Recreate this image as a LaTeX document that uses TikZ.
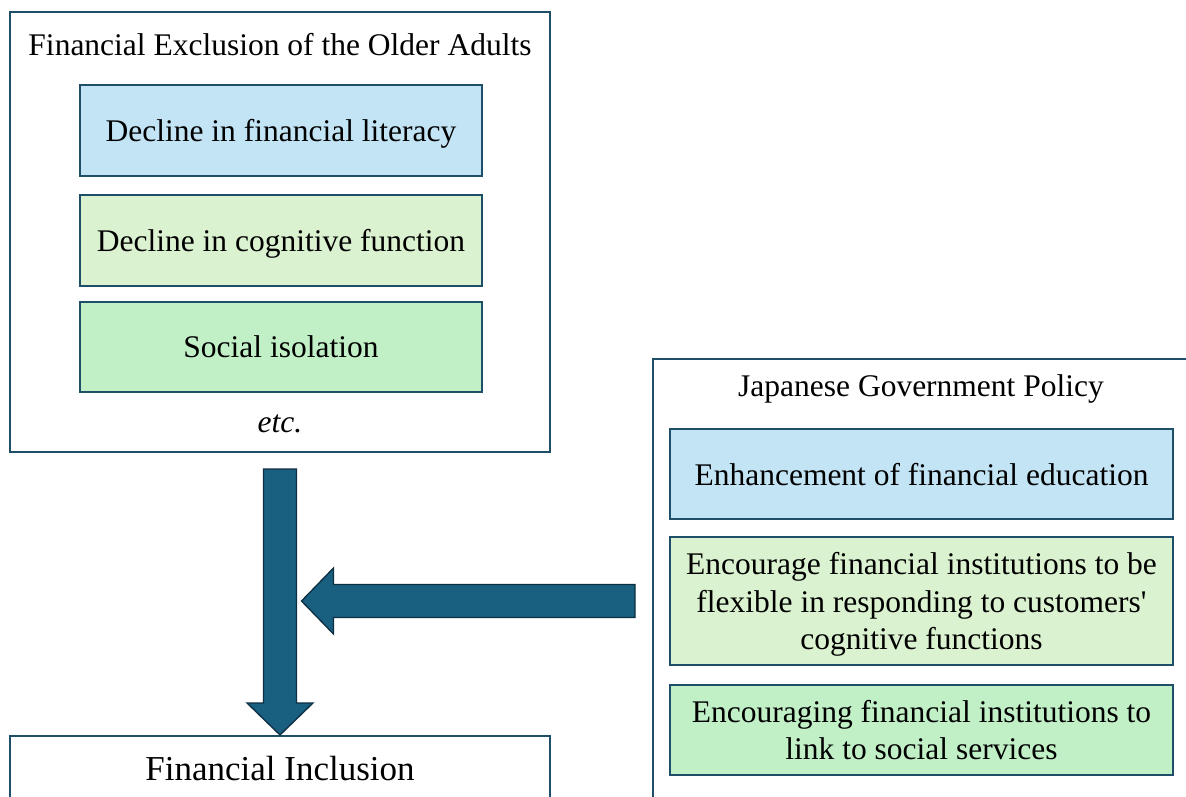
\documentclass[tikz,border=0pt]{standalone}
\usepackage{fontspec}
\setmainfont{Liberation Serif}
\usetikzlibrary{calc}
\definecolor{frameline}{HTML}{1E4E68}
\definecolor{arrowfill}{HTML}{185F80}
\definecolor{arrowline}{HTML}{0E2F42}
\definecolor{fillblue}{HTML}{C2E4F5}
\definecolor{filllime}{HTML}{DBF2D0}
\definecolor{fillgreen}{HTML}{C1F0C7}
\begin{document}
\begin{tikzpicture}[x=1pt,y=-1pt,
  frame/.style={draw=frameline, line width=2pt, fill=white, inner sep=0pt},
  item/.style={draw=frameline, line width=2pt, inner sep=0pt, align=center,
    text depth=0pt, font=\fontsize{31.5}{37.5}\selectfont},
  heading/.style={inner sep=0pt, align=center, font=\fontsize{31.5}{37.5}\selectfont},
  blockarrow/.style={fill=arrowfill, draw=arrowline, line width=1.3pt, line join=miter}]
\useasboundingbox (0,0) rectangle (1186,796);
\clip (0,0) rectangle (1186,796);
\fill[white] (0,0) rectangle (1186,796);

% left group: causes of exclusion
\node[frame, minimum width=540pt, minimum height=440pt] (excl) at (280,232) {};
\node[heading] (exclT) at (280,45) {Financial Exclusion of the Older Adults};
\node[item, fill=fillblue, minimum width=402pt, minimum height=91pt] (lit) at (281,130.5) {Decline in financial literacy};
\node[item, fill=filllime, minimum width=402pt, minimum height=91pt] (cog) at (281,240.5) {Decline in cognitive function};
\node[item, fill=fillgreen, minimum width=402pt, minimum height=90pt] (iso) at (281,347) {Social isolation};
\node[heading] (etc) at (280,424) {\itshape etc.};

% outcome box
\node[frame, minimum width=540pt, minimum height=140pt, anchor=north] (incl) at (280,735) {};
\node[inner sep=0pt, font=\fontsize{35}{42}\selectfont] (inclT) at (280,769) {Financial Inclusion};

% right group: policy measures
\node[frame, minimum width=580pt, minimum height=500pt, anchor=north west] (policy) at (652,358) {};
\node[heading] (policyT) at (921,389) {Japanese Government Policy};
\node[item, fill=fillblue, minimum width=503pt, minimum height=90pt] (edu) at (921.5,474) {Enhancement of financial education};
\node[item, fill=filllime, minimum width=503pt, minimum height=128pt] (flex) at (921.5,601)
  {Encourage financial institutions to be\\flexible in responding to customers\textquotesingle\\cognitive functions};
\node[item, fill=fillgreen, minimum width=503pt, minimum height=90pt] (link) at (921.5,730)
  {Encouraging financial institutions to\\link to social services};

% block arrows
\coordinate (dtail) at ($(excl.south)+(0,16)$);
\draw[blockarrow] ($(dtail)+(-16.5,0)$) -- ($(dtail)+(16.5,0)$)
  -- ($(incl.north)+(16.5,-32)$) -- ($(incl.north)+(33,-32)$) -- (incl.north)
  -- ($(incl.north)+(-33,-32)$) -- ($(incl.north)+(-16.5,-32)$) -- cycle;

\coordinate (htail) at ($(policy.north west)+(-17,243)$);
\coordinate (htip) at ($(dtail |- htail)+(21.5,0)$);
\draw[blockarrow] ($(htail)+(0,-16.5)$) -- ($(htail)+(0,16.5)$)
  -- ($(htip)+(32,16.5)$) -- ($(htip)+(32,33)$) -- (htip)
  -- ($(htip)+(32,-33)$) -- ($(htip)+(32,-16.5)$) -- cycle;
\end{tikzpicture}
\end{document}
